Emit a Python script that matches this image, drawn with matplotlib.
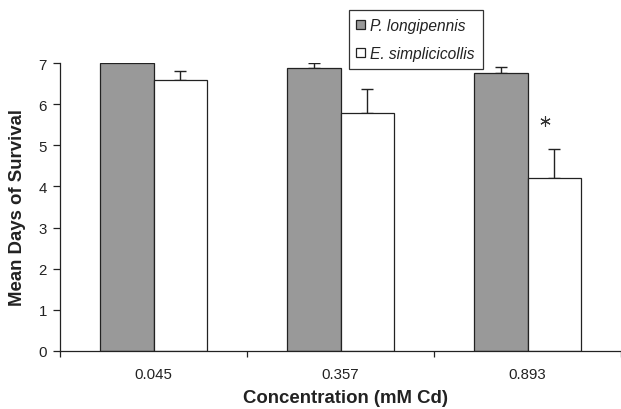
import matplotlib
matplotlib.use('Agg')
from matplotlib import pyplot as plt
from matplotlib.patches import Patch
import numpy as np

plt.rcParams['font.family'] = ['Liberation Sans', 'DejaVu Sans']

concentrations = ['0.045', '0.357', '0.893']
species = ['P. longipennis', 'E. simplicicollis']
p_longipennis = [7.0, 6.88, 6.77]
p_longipennis_err = [0.0, 0.12, 0.14]
e_simplicicollis = [6.6, 5.8, 4.2]
e_simplicicollis_err = [0.22, 0.57, 0.71]
significant = [False, False, True]

bar_colors = ['#999999', 'white']
edge = '#222222'
text_color = '#222222'
W, H = 621, 410

fig = plt.figure(figsize=(W / 100, H / 100), dpi=100)
ax = fig.add_axes([60 / W, (H - 351.7) / H, (W - 60) / W, (351.7 - 64.3) / H])

x = np.arange(len(concentrations))
width = 0.287
err_kw = dict(ecolor=edge, elinewidth=1.0, capsize=4, capthick=1.0)
ax.bar(x - width / 2, p_longipennis, width, color=bar_colors[0], edgecolor=edge,
       linewidth=0.9, zorder=2)
ax.errorbar(x - width / 2, p_longipennis, yerr=[np.zeros(3), p_longipennis_err],
            fmt='none', zorder=1, **err_kw)
ax.bar(x + width / 2, e_simplicicollis, width, color=bar_colors[1], edgecolor=edge,
       linewidth=0.9, zorder=2)
ax.errorbar(x + width / 2, e_simplicicollis, yerr=[np.zeros(3), e_simplicicollis_err],
            fmt='none', zorder=1, **err_kw)

# significance star above the E. simplicicollis bar
for i, sig in enumerate(significant):
    if sig:
        ax.plot(x[i] + width / 2 - 0.052, e_simplicicollis[i] + e_simplicicollis_err[i] + 0.68,
                marker=(6, 2, 0), markersize=7.5, color='#333333', markeredgewidth=0.8,
                clip_on=False)

ax.set_xlim(-0.5, -0.5 + (W - 60) / 190.3)
ax.set_ylim(0, 7)
ax.set_yticks(range(8))
ax.set_xticks(x)
ax.set_xticklabels(concentrations, fontsize=10.8, color=text_color)
ax.set_xticks(np.arange(-0.5, 3, 1.0), minor=True)
ax.tick_params(axis='x', which='major', length=0, pad=12)
ax.tick_params(axis='x', which='minor', length=4, width=0.9, color=edge, direction='out')
ax.tick_params(axis='y', length=5, width=0.9, color=edge, labelsize=10.8, pad=4.5,
               labelcolor=text_color)

for s in ['top', 'right']:
    ax.spines[s].set_visible(False)
for s in ['left', 'bottom']:
    ax.spines[s].set_color(edge)
    ax.spines[s].set_linewidth(0.9)

ax.set_ylabel('Mean Days of Survival', fontsize=13.4, fontweight='bold', color=text_color)
ax.set_xlabel('Concentration (mM Cd)', fontsize=13.4, fontweight='bold', color=text_color)
ax.xaxis.label.set_va('center')
ax.xaxis.set_label_coords(1.5 / ((W - 60) / 190.3), -(399 - 351.7) / (351.7 - 64.3))
ax.yaxis.label.set_va('center')
ax.yaxis.set_label_coords(-(60 - 18) / (W - 60), 0.5)

handles = [Patch(facecolor=c, edgecolor=edge, linewidth=0.9) for c in bar_colors]
leg = fig.legend(handles, species, loc='upper left', bbox_to_anchor=(348.5 / W, 1 - 11 / H),
                 borderaxespad=0, frameon=True, fancybox=False, edgecolor='black',
                 prop={'style': 'italic', 'size': 11.2}, handlelength=0.55, handleheight=0.55,
                 handletextpad=0.35, labelspacing=0.85, borderpad=0.5)
leg.get_frame().set_linewidth(0.9)
for t in leg.get_texts():
    t.set_color(text_color)

fig.savefig('out.png', dpi=100)
